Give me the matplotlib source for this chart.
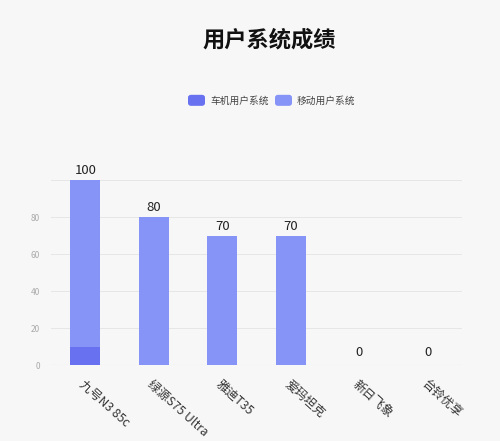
## Chart: user system scores, stacked bars
import matplotlib.pyplot as plt
import numpy as np
from matplotlib.patches import FancyBboxPatch

plt.rcParams['font.family'] = ['Noto Sans CJK SC', 'DejaVu Sans']

## data
categories = ["九号N3 85c", "绿源S75 Ultra", "雅迪T35", "爱玛坦克", "新日飞象", "台铃优享"]
car_system = [10, 0, 0, 0, 0, 0]
mobile_system = [90, 80, 70, 70, 0, 0]
series_names = ["车机用户系统", "移动用户系统"]
y_ticks = [0, 20, 40, 60, 80]

color_car = "#6872f0"
color_mobile = "#8794f7"
bg = "#f7f7f7"

fig = plt.figure(figsize=(5, 4.41), dpi=100, facecolor=bg)
ax = fig.add_axes([0.102, 0.1723, 0.822, 0.4195])
ax.set_facecolor(bg)

x = np.arange(len(categories))
ax.bar(x, car_system, width=0.44, color=color_car, zorder=3)
ax.bar(x, mobile_system, width=0.44, bottom=car_system, color=color_mobile, zorder=3)

## total labels on top of each bar
totals = np.array(car_system) + np.array(mobile_system)
for xi, t in zip(x, totals):
    gap = 1.5 if t > 0 else 3
    ax.text(xi, t + gap, str(t), ha="center", va="bottom", fontsize=9.5, color="#222")

ax.set_xlim(-0.5, len(categories) - 0.5)
ax.set_ylim(0, 100)
ax.set_yticks(y_ticks)
ax.set_yticklabels([str(v) for v in y_ticks], fontsize=6, color="#aaa")
for v in y_ticks[1:] + [100]:
    ax.axhline(v, color="#e6e6e6", linewidth=0.7, zorder=1)
ax.axhline(0, color="#dcdcdc", linewidth=0.8, zorder=2)

ax.set_xticks(x)
ax.set_xticklabels(categories, rotation=-42, ha="left", va="top",
                   rotation_mode="anchor", fontsize=8.8, color="#333")
ax.tick_params(axis="both", length=0, pad=8)
ax.tick_params(axis="x", pad=9)
for s in ax.spines.values():
    s.set_visible(False)

## title
fig.text(0.538, 0.909, "用户系统成绩", ha="center", va="center",
         fontsize=16, fontweight="bold", color="#111")

## legend drawn by hand to match rounded swatches
legend_items = [(0.376, color_car, series_names[0]), (0.550, color_mobile, series_names[1])]
for lx, c, name in legend_items:
    box = FancyBboxPatch((lx, 0.760), 0.034, 0.025,
                         boxstyle="round,pad=0,rounding_size=0.006",
                         transform=fig.transFigure, facecolor=c, edgecolor="none")
    fig.patches.append(box)
    fig.text(lx + 0.044, 0.772, name, ha="left", va="center", fontsize=7, color="#444")

plt.savefig("out.png", dpi=100, facecolor=bg)
